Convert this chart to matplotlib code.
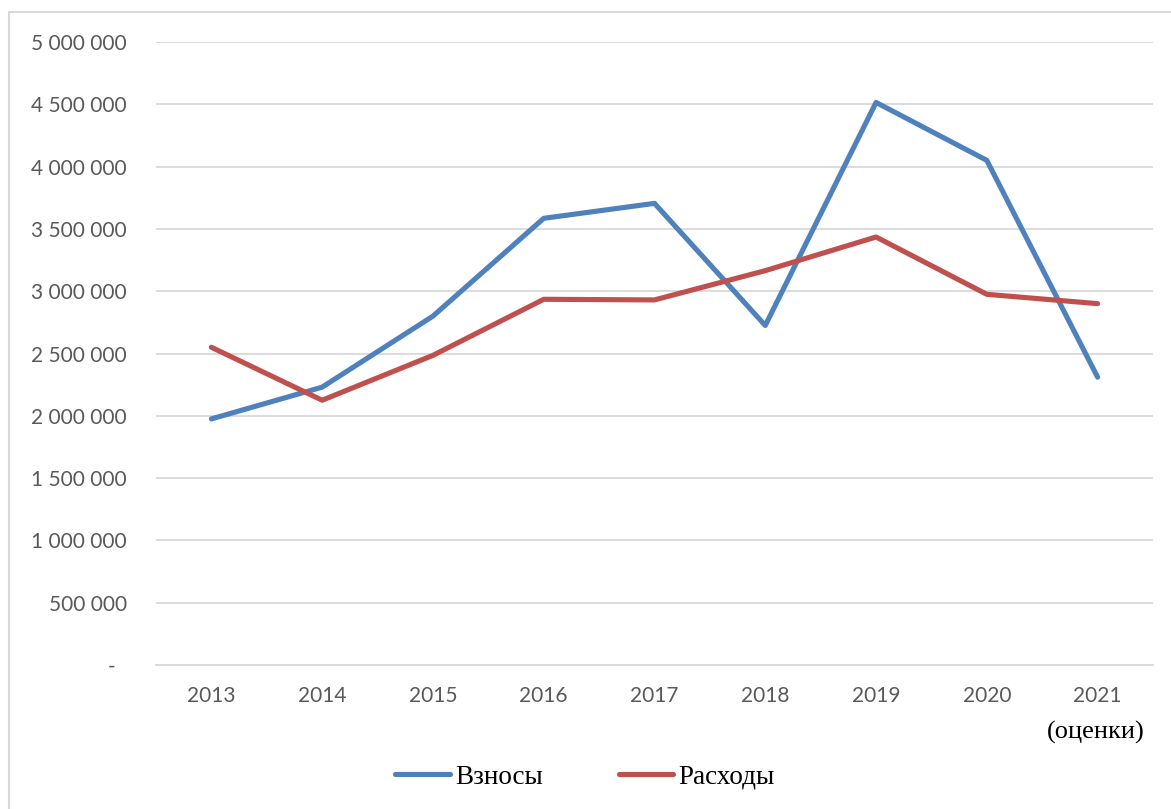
import matplotlib.pyplot as plt
from matplotlib.patches import Rectangle
from matplotlib.ticker import FuncFormatter, MultipleLocator
import matplotlib.transforms as mtransforms

# Данные
years = ['2013', '2014', '2015', '2016', '2017', '2018', '2019', '2020', '2021']
vznosy = [1975000, 2230000, 2800000, 3585000, 3705000, 2725000, 4515000, 4050000, 2310000]
raskhody = [2550000, 2125000, 2485000, 2935000, 2930000, 3165000, 3435000, 2975000, 2900000]
estimate_note = '(оценки)'

BLUE = '#4F81BD'
RED = '#C0504D'
TICK_COLOR = '#595959'
GRID_COLOR = '#D9D9D9'


def fmt_thousands(v, pos):
    # формат как в Excel: пробел как разделитель, ноль — прочерк
    if v == 0:
        return '-  '
    return f'{int(v):,}'.replace(',', ' ')


fig = plt.figure(figsize=(11.71, 8.09), dpi=100)
ax = fig.add_axes([156 / 1171, 1 - 665 / 809, (1153 - 156) / 1171, (665 - 42) / 809])

x = list(range(len(years)))
ax.plot(x, vznosy, color=BLUE, lw=3.7, solid_capstyle='round', solid_joinstyle='round', label='Взносы')
ax.plot(x, raskhody, color=RED, lw=3.7, solid_capstyle='round', solid_joinstyle='round', label='Расходы')

ax.set_xlim(-0.5, len(years) - 0.5)
ax.set_ylim(0, 5000000)
ax.yaxis.set_major_locator(MultipleLocator(500000))
ax.yaxis.set_major_formatter(FuncFormatter(fmt_thousands))
ax.set_xticks(x)
ax.set_xticklabels(years)

ax.grid(axis='y', color=GRID_COLOR, lw=1.3)
ax.set_axisbelow(True)
for s in ['top', 'right', 'left']:
    ax.spines[s].set_visible(False)
ax.spines['bottom'].set_color(GRID_COLOR)
ax.spines['bottom'].set_linewidth(1.3)
ax.tick_params(axis='both', length=0, colors=TICK_COLOR, labelsize=15)
ax.tick_params(axis='y', pad=21)
ax.tick_params(axis='x', pad=15)
for lbl in ax.get_xticklabels() + ax.get_yticklabels():
    lbl.set_fontfamily('Lato')

# подпись «(оценки)» под 2021
trans = mtransforms.blended_transform_factory(ax.transData, ax.transAxes)
ax.text(x[-1] - 0.02, -0.108, estimate_note, transform=trans, ha='center', va='center',
        fontsize=19, family='Liberation Serif', color='black')

fig.legend(loc='center', bbox_to_anchor=(585 / 1171, 1 - 777 / 809), ncol=2, frameon=False,
           prop={'family': 'Liberation Serif', 'size': 19.5}, handlelength=2.0,
           handletextpad=0.2, columnspacing=2.8)

# рамка диаграммы
fig.patches.append(Rectangle((9 / 1171, -0.1), 1.2, 1 - 12 / 809 + 0.1, transform=fig.transFigure,
                             fill=False, edgecolor='#D9D9D9', lw=1.5))

fig.savefig('out.png', dpi=100)
